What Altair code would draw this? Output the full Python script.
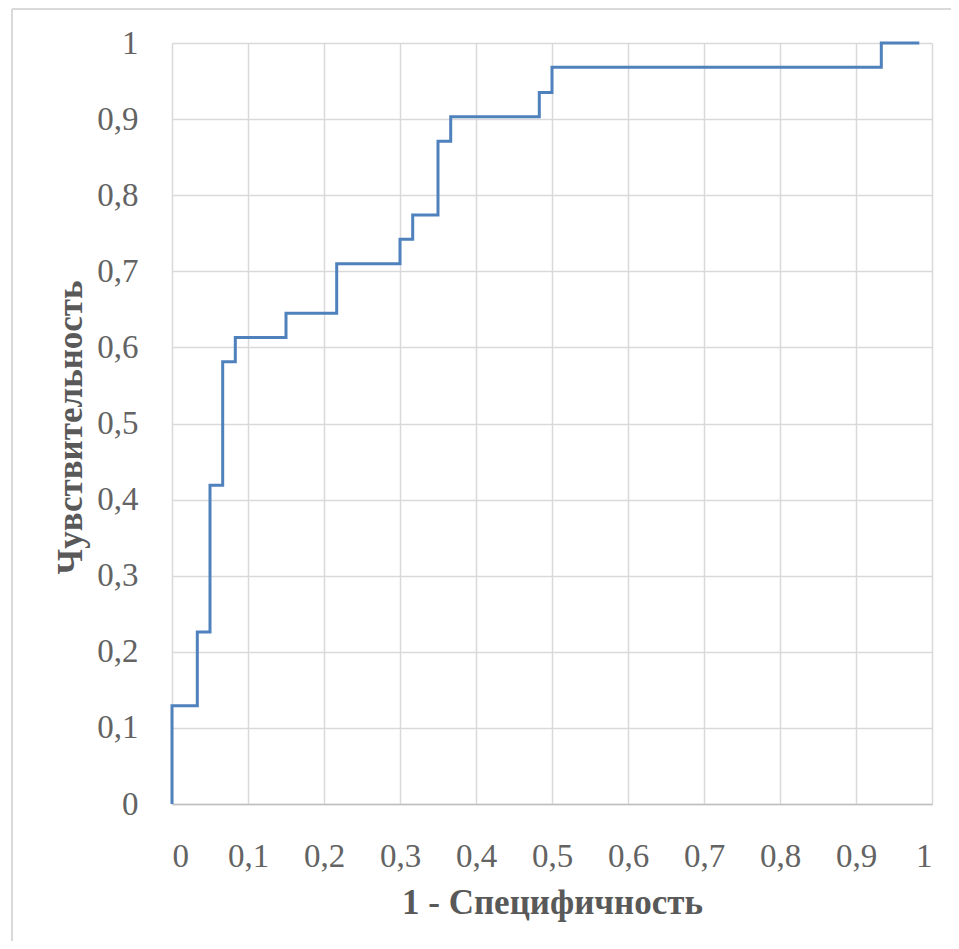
import altair as alt
import pandas as pd

# ROC curve vertices (step-after): 1 - specificity, sensitivity
fpr = [0.0, 0.0, 0.0333, 0.05, 0.0667, 0.0833, 0.15, 0.2167, 0.30, 0.3167,
       0.35, 0.3667, 0.4833, 0.50, 0.9333, 0.9833]
tpr = [0.0, 0.129, 0.226, 0.419, 0.581, 0.613, 0.645, 0.710, 0.742, 0.774,
       0.871, 0.903, 0.935, 0.968, 1.0, 1.0]
ticks = [0.0, 0.1, 0.2, 0.3, 0.4, 0.5, 0.6, 0.7, 0.8, 0.9, 1.0]
x_title = "1 - Специфичность"
y_title = "Чувствительность"

df = pd.DataFrame({"fpr": fpr, "tpr": tpr, "order": list(range(len(fpr)))})

FONT = "Liberation Serif"
GRID = "#d9d9d9"
TXT = "#595959"
LBL = "#636363"
label_expr = "replace(datum.label, '.', ',')"

W, H = 760, 761
PAD_L, PAD_T = 164, 35

line = alt.Chart(df).mark_line(
    interpolate="step-after", color="#4F81BD", strokeWidth=3, clip=False
).encode(
    x=alt.X("fpr:Q", scale=alt.Scale(domain=[0, 1], nice=False, zero=False),
            axis=alt.Axis(values=ticks, format=".1~f", labelExpr=label_expr,
                          title=x_title, grid=True, gridColor=GRID, gridWidth=1.5,
                          domain=True, domainColor="#bfbfbf", domainWidth=1.5,
                          ticks=False, labelPadding=36, labelFontSize=33,
                          labelFont=FONT, labelColor=LBL,
                          titleFont=FONT, titleFontSize=35, titleFontWeight="bold",
                          titleColor=TXT, titleX=380, titleY=98,
                          titleBaseline="middle")),
    y=alt.Y("tpr:Q", scale=alt.Scale(domain=[0, 1], nice=False, zero=False),
            axis=alt.Axis(values=ticks, format=".1~f", labelExpr=label_expr,
                          title=y_title, grid=True, gridColor=GRID, gridWidth=1.5,
                          domain=False, ticks=False, labelPadding=34,
                          labelFontSize=33, labelFont=FONT, labelColor=LBL,
                          titleFont=FONT, titleFontSize=35, titleFontWeight="bold",
                          titleColor=TXT, titleX=-102, titleY=384,
                          titleBaseline="middle")),
    order="order:Q",
)

frame_left = alt.Chart(df).mark_rule(color=GRID, strokeWidth=2).encode(
    x=alt.value(4 - PAD_L), y=alt.value(1 - PAD_T), y2=alt.value(H + 200)
)
frame_top = alt.Chart(df).mark_rule(color=GRID, strokeWidth=2).encode(
    x=alt.value(4 - PAD_L), x2=alt.value(W + 200), y=alt.value(1 - PAD_T)
)

chart = alt.layer(frame_left, frame_top, line).properties(
    width=W, height=H,
    autosize=alt.AutoSizeParams(type="none"),
    padding={"left": PAD_L, "top": PAD_T, "right": 943 - PAD_L - W,
             "bottom": 933 - PAD_T - H},
    background="white",
).configure_view(stroke=None)

chart.save("out.html", embed_options={"renderer": "svg", "actions": False})
